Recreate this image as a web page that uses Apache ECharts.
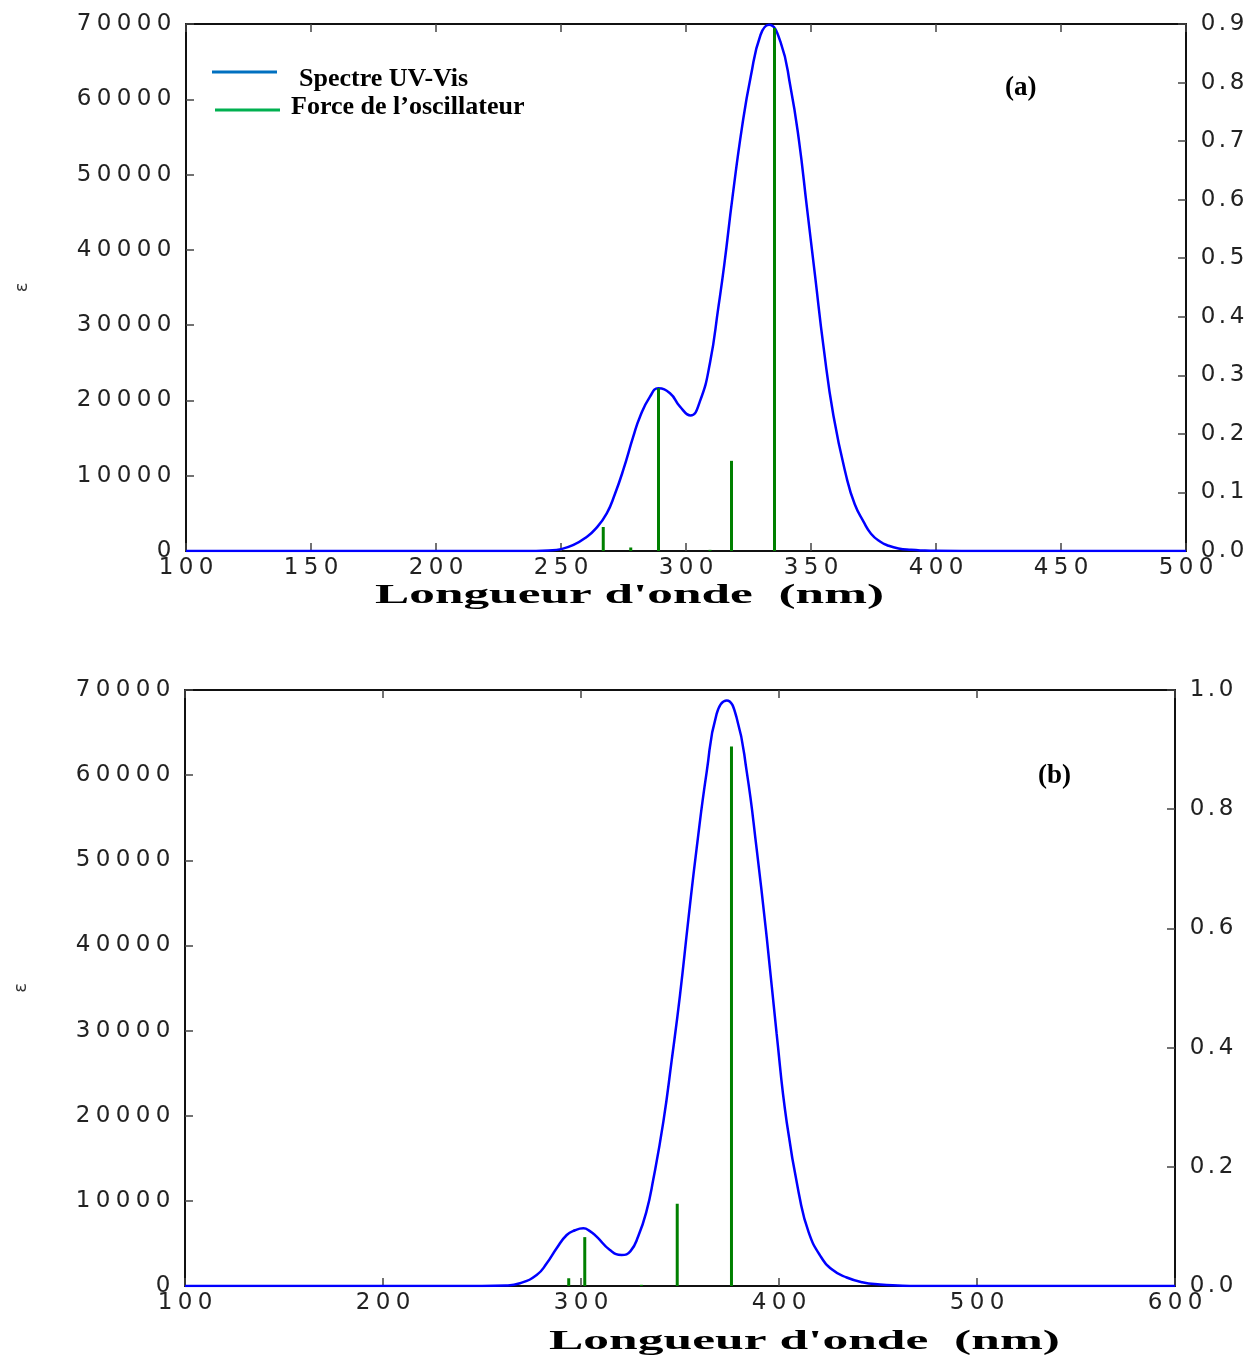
<!DOCTYPE html>
<html>
<head>
<meta charset="utf-8">
<script src="https://cdn.jsdelivr.net/npm/echarts@6/dist/echarts.min.js"></script>
<style>
  html, body { margin: 0; padding: 0; background: #fff; }
  #main { width: 1257px; height: 1358px; }
</style>
</head>
<body>
<div id="main"></div>
<script>
// (a) spectre UV-Vis calculé + forces de l'oscillateur
var waveA = [100, 200, 240, 245, 250, 255, 260, 264, 268.3, 271.5, 274.9, 278.9, 281.6, 285.6, 288.9, 293.6, 297.6, 301.8,
  305.6, 309.6, 313, 315.3, 318.6, 322.5, 325.9, 329.8, 333.2, 337.8, 341.8, 345.1, 348.4, 351.7, 355, 359,
  364.3, 367.5, 371, 374, 377.6, 381, 385, 390, 395, 400, 420, 500];
var epsA = [0, 0, 0, 60, 250, 800, 1800, 3000, 5000, 7500, 10760, 15180, 17840, 20500, 21610, 20950, 19170, 18000,
  19900, 25000, 32500, 38000, 47000, 56500, 63020, 68540, 69900, 67620, 61640, 54740, 45540, 36340, 27140, 17940,
  9660, 6200, 3900, 2300, 1250, 700, 330, 150, 60, 20, 0, 0];
var stickWaveA = [266.9, 277.9, 289, 309.6, 318.2, 335.4];
var stickForceA = [0.041, 0.006, 0.278, 0.002, 0.154, 0.893];

// (b)
var waveB = [100, 250, 262, 269.2, 277.6, 282.7, 287.7, 292.8, 297, 301.2, 304.5, 307.9, 314.6, 320.5, 325,
  329, 333, 336.5, 341.6, 345.8, 350, 354.2, 358.4, 363.5, 368.5, 373.6, 378.6, 383.7, 388.7, 393.8, 398.8,
  403.9, 410.6, 415, 420.7, 427, 434.2, 442, 451, 460, 470, 600];
var epsB = [0, 0, 50, 320, 1290, 2660, 4430, 5990, 6550, 6770, 6450, 5790, 4230, 3640, 4100,
  5900, 8700, 12500, 19300, 26500, 34160, 43000, 51400, 60410, 67200, 68780, 66740, 60410, 51360, 40950, 29640,
  19230, 10180, 6300, 3600, 1900, 1000, 450, 180, 60, 0, 0];
var stickWaveB = [293.8, 301.9, 330.5, 348.6, 376];
var stickForceB = [0.013, 0.082, 0.002, 0.138, 0.905];

var xTitle = "Longueur d'onde  (nm)";
var yName = 'ε';

function pairs(xs, ys) {
  return xs.map(function (x, i) { return [x, ys[i]]; });
}

// chiffres larges comme sur la figure
function wide(s) {
  return String(s).split('').map(function (c) {
    return c === '.' ? '{d|.}' : '{c|' + c + '}';
  }).join('');
}
var tickFont = { fontFamily: 'DejaVu Sans', fontSize: 23, color: '#222' };
var rich = {
  c: Object.assign({ width: 20, align: 'center' }, tickFont),
  d: Object.assign({ width: 9, align: 'center' }, tickFont)
};

var axisLine = { show: true, onZero: false, lineStyle: { color: '#111', width: 2 } };
var axisTick = { show: true, inside: true, length: 8, lineStyle: { color: '#444', width: 1.5 } };

function xAxes(idx, max, step) {
  return [
    { type: 'value', gridIndex: idx, min: 100, max: max, interval: step, axisLine: axisLine, axisTick: axisTick,
      splitLine: { show: false }, axisLabel: { margin: 6, formatter: function (v) { return wide(v); }, rich: rich } },
    { type: 'value', gridIndex: idx, position: 'top', min: 100, max: max, interval: step, axisLine: axisLine,
      axisTick: axisTick, splitLine: { show: false }, axisLabel: { show: false } }
  ];
}
function yAxes(idx, fmax, fstep) {
  return [
    { type: 'value', gridIndex: idx, min: 0, max: 70000, interval: 10000, position: 'left',
      name: yName, nameLocation: 'middle', nameGap: 155, nameRotate: 90,
      nameTextStyle: { fontFamily: 'DejaVu Sans', fontSize: 18, color: '#333' },
      axisLine: axisLine, axisTick: axisTick, splitLine: { show: false },
      axisLabel: { margin: 12, formatter: function (v) { return wide(v); }, rich: rich } },
    { type: 'value', gridIndex: idx, min: 0, max: fmax, interval: fstep, position: 'right',
      axisLine: axisLine, axisTick: axisTick, splitLine: { show: false },
      axisLabel: { margin: 12, formatter: function (v) { return wide(v.toFixed(1)); }, rich: rich } }
  ];
}

function curve(name, xi, yi, data) {
  return { name: name, type: 'line', xAxisIndex: xi, yAxisIndex: yi, data: data, smooth: 0.5,
    showSymbol: false, lineStyle: { color: '#0000ff', width: 2.5 },
    itemStyle: { color: '#0000ff' }, z: 2 };
}
function sticks(name, xi, yi, data) {
  return { name: name, type: 'bar', xAxisIndex: xi, yAxisIndex: yi, data: data, barWidth: 3,
    itemStyle: { color: '#008000' }, z: 3 };
}

// largeur du titre d'axe étiré
var ctx = document.createElement('canvas').getContext('2d');
var titleFont = 'bold 28px "Liberation Serif"';
ctx.font = titleFont;
var titleW = ctx.measureText(xTitle).width;

var legendText = { fontFamily: 'Liberation Serif', fontWeight: 'bold', fontSize: 26, color: '#000' };

var chart = echarts.init(document.getElementById('main'));
var option = {
  animation: false,
  backgroundColor: '#fff',
  grid: [
    { left: 186, right: 71, top: 24, height: 527 },
    { left: 185, right: 82, top: 690, height: 596 }
  ],
  xAxis: xAxes(0, 500, 50).concat(xAxes(1, 600, 100)),
  yAxis: yAxes(0, 0.9, 0.1).concat(yAxes(1, 1.0, 0.2)),
  title: [
    { text: '(a)', left: 1000, top: 70, textStyle: { fontFamily: 'Liberation Serif', fontWeight: 'bold', fontSize: 27, color: '#000' } },
    { text: '(b)', left: 1033, top: 758, textStyle: { fontFamily: 'Liberation Serif', fontWeight: 'bold', fontSize: 27, color: '#000' } }
  ],
  legend: [
    { left: 212, top: 66, padding: 0, icon: 'rect', itemWidth: 65, itemHeight: 3, selectedMode: false,
      data: [{ name: 'Spectre UV-Vis', itemStyle: { color: '#0070C0' } }],
      formatter: function (n) { return '{t|' + n + '}'; },
      textStyle: { rich: { t: Object.assign({ padding: [14, 0, 0, 17] }, legendText) } } },
    { left: 215, top: 94, padding: 0, icon: 'rect', itemWidth: 65, itemHeight: 3, selectedMode: false,
      data: [{ name: 'Force de l\u2019oscillateur', itemStyle: { color: '#00B050' } }],
      formatter: function (n) { return '{t|' + n + '}'; },
      textStyle: { rich: { t: Object.assign({ padding: [0, 0, 6, 6] }, legendText) } } }
  ],
  graphic: [
    { type: 'text', x: 375, y: 596, scaleX: 509 / titleW,
      style: { text: xTitle, font: titleFont, fill: '#000', textVerticalAlign: 'middle', verticalAlign: 'middle' } },
    { type: 'text', x: 549, y: 1342, scaleX: 511 / titleW,
      style: { text: xTitle, font: titleFont, fill: '#000', textVerticalAlign: 'middle', verticalAlign: 'middle' } }
  ],
  series: [
    curve('Spectre UV-Vis', 0, 0, pairs(waveA, epsA)),
    sticks('Force de l\u2019oscillateur', 0, 1, pairs(stickWaveA, stickForceA)),
    curve('Spectre UV-Vis', 2, 2, pairs(waveB, epsB)),
    sticks('Force de l\u2019oscillateur', 2, 3, pairs(stickWaveB, stickForceB))
  ]
};
chart.setOption(option);
</script>
</body>
</html>
